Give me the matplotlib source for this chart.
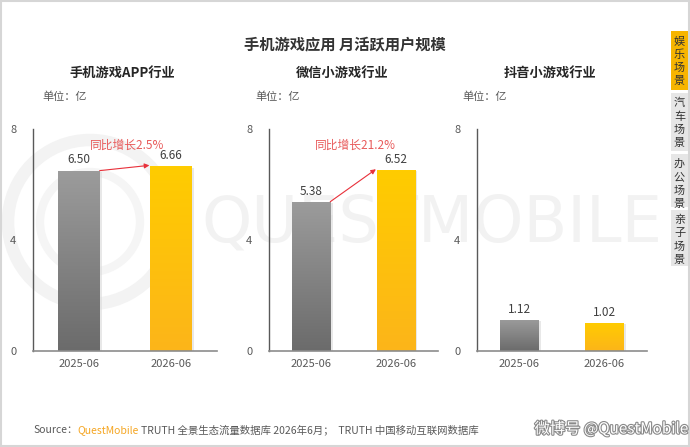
import numpy as np
import matplotlib
matplotlib.use('Agg')
import matplotlib.pyplot as plt
from matplotlib.patches import Rectangle, Circle
import matplotlib.patheffects as pe

plt.rcParams['font.family'] = ['Noto Sans CJK SC', 'DejaVu Sans']

# ---- data ----
panels = ['手机游戏APP行业', '微信小游戏行业', '抖音小游戏行业']
periods = ['2025-06', '2026-06']
v_2025 = [6.50, 5.38, 1.12]
v_2026 = [6.66, 6.52, 1.02]
growth = ['同比增长2.5%', '同比增长21.2%', None]
tabs = ['娱乐场景', '汽车场景', '办公场景', '亲子场景']

W, H = 690, 447
fig = plt.figure(figsize=(W / 100, H / 100), dpi=100)

def fx(px): return px / W
def fy(py): return 1 - py / H

# background layer in pixel units (watermark, frame, tabs)
bg = fig.add_axes([0, 0, 1, 1], zorder=-5)
bg.set_xlim(0, W); bg.set_ylim(H, 0); bg.axis('off')
bg.text(432, 224, 'QUESTMOBILE', fontsize=46, color='#f2f2f2', ha='center', va='center',
        family='DejaVu Sans')
bg.add_patch(Circle((90, 222), 82, fill=False, lw=9, ec='#f3f3f3'))
bg.add_patch(Circle((90, 222), 50, fill=False, lw=6, ec='#f5f5f5'))
bg.add_patch(Rectangle((0.8, 0.8), W - 1.6, H - 1.6, fill=False, ec='#d6d6d6', lw=1.5))

fig.text(fx(345), fy(44), '手机游戏应用 月活跃用户规模', fontsize=11, fontweight='bold',
         color='#333333', ha='center', va='center')

# axes boxes in pixels: (left, width); subtitle centre; unit label x
boxes = [(33, 184), (269, 169), (477, 170)]
sub_x = [122, 342, 550]
unit_x = [42, 255, 462]
y_top, y_bot = 129, 351

grey_grad = np.linspace([0.61, 0.61, 0.61], [0.42, 0.42, 0.42], 100)[:, None, :]
gold_grad = np.linspace([1.0, 0.80, 0.0], [0.99, 0.71, 0.10], 100)[:, None, :]
bw = 0.45

for i, (left, width) in enumerate(boxes):
    ax = fig.add_axes([fx(left), fy(y_bot), width / W, (y_bot - y_top) / H])
    ax.patch.set_alpha(0)
    ax.set_xlim(-0.5, 1.5); ax.set_ylim(0, 8)
    for s in ('top', 'right'):
        ax.spines[s].set_visible(False)
    ax.spines['left'].set_color('#595959'); ax.spines['left'].set_linewidth(1)
    ax.spines['bottom'].set_color('#8c8c8c'); ax.spines['bottom'].set_linewidth(1.2)
    ax.set_yticks([0, 4, 8]); ax.set_yticklabels(['0', '4', '8'])
    ax.set_xticks([0, 1]); ax.set_xticklabels(periods)
    ax.tick_params(axis='y', length=0, pad=12, labelsize=8, labelcolor='#595959')
    ax.tick_params(axis='x', length=0, pad=6, labelsize=8, labelcolor='#595959')

    vals = [v_2025[i], v_2026[i]]
    for x, v, grad in zip([0, 1], vals, [grey_grad, gold_grad]):
        # soft shadow
        ax.bar(x + 0.03, v - 0.05, width=bw, bottom=0, color='#d9d9d9', alpha=0.6, zorder=1)
        bar = ax.bar(x, v, width=bw, color='none', zorder=2)[0]
        im = ax.imshow(grad, extent=(x - bw / 2, x + bw / 2, 0, v), aspect='auto', zorder=2)
        im.set_clip_path(bar)
        ax.text(x, v + 0.15, f'{v:.2f}', ha='center', va='bottom', fontsize=8.5,
                color='#404040', zorder=3)
    ax.set_xlim(-0.5, 1.5); ax.set_ylim(0, 8)

    if growth[i]:
        ax.annotate('', xy=(1 - bw / 2 - 0.01, vals[1] + 0.03), xytext=(bw / 2, vals[0]),
                    arrowprops=dict(arrowstyle='-|>', color='#e8303a', lw=0.8,
                                    mutation_scale=7, shrinkA=0, shrinkB=0), zorder=4)
        ax.text(0.52, 7.4, growth[i], ha='center', va='center', fontsize=8.5,
                color='#e85a5a', zorder=4)

    fig.text(fx(sub_x[i]), fy(73), panels[i], fontsize=9.5, fontweight='bold',
             color='#262626', ha='center', va='center')
    fig.text(fx(unit_x[i]), fy(97), '单位：亿', fontsize=8, color='#595959',
             ha='left', va='center')

# right-hand tabs, one character per line
tab_spans = [(31, 90), (93, 151), (154, 207), (210, 266)]
for j, (name, (t0, t1)) in enumerate(zip(tabs, tab_spans)):
    fc = '#f7b500' if j == 0 else '#e6e6e6'
    bg.add_patch(Rectangle((671, t0), 17, t1 - t0, fc=fc, ec='none'))
    for k, ch in enumerate(name):
        bg.text(679.5, t0 + 10 + k * 13.3, ch, fontsize=8, color='#333333',
                ha='center', va='center')

# footer
fy_src = fy(430)
t = fig.text(fx(33), fy_src, 'Source：', fontsize=7.5, color='#595959', ha='left', va='center')
fig.canvas.draw()
r = fig.canvas.get_renderer()
x_next = t.get_window_extent(r).x1
t2 = fig.text(x_next / W, fy_src, 'QuestMobile', fontsize=7.5, color='#f5a623',
              ha='left', va='center')
x_next = t2.get_window_extent(r).x1
fig.text(x_next / W + 0.003, fy_src, 'TRUTH 全景生态流量数据库 2026年6月；  TRUTH 中国移动互联网数据库',
         fontsize=7.5, color='#595959', ha='left', va='center')
fig.text(fx(688), fy(429), '微博号 @QuestMobile', fontsize=11, color='white', ha='right',
         va='center', zorder=8,
         path_effects=[pe.withStroke(linewidth=1.6, foreground='#8a8a8a')])

fig.savefig('out.png', dpi=100)
